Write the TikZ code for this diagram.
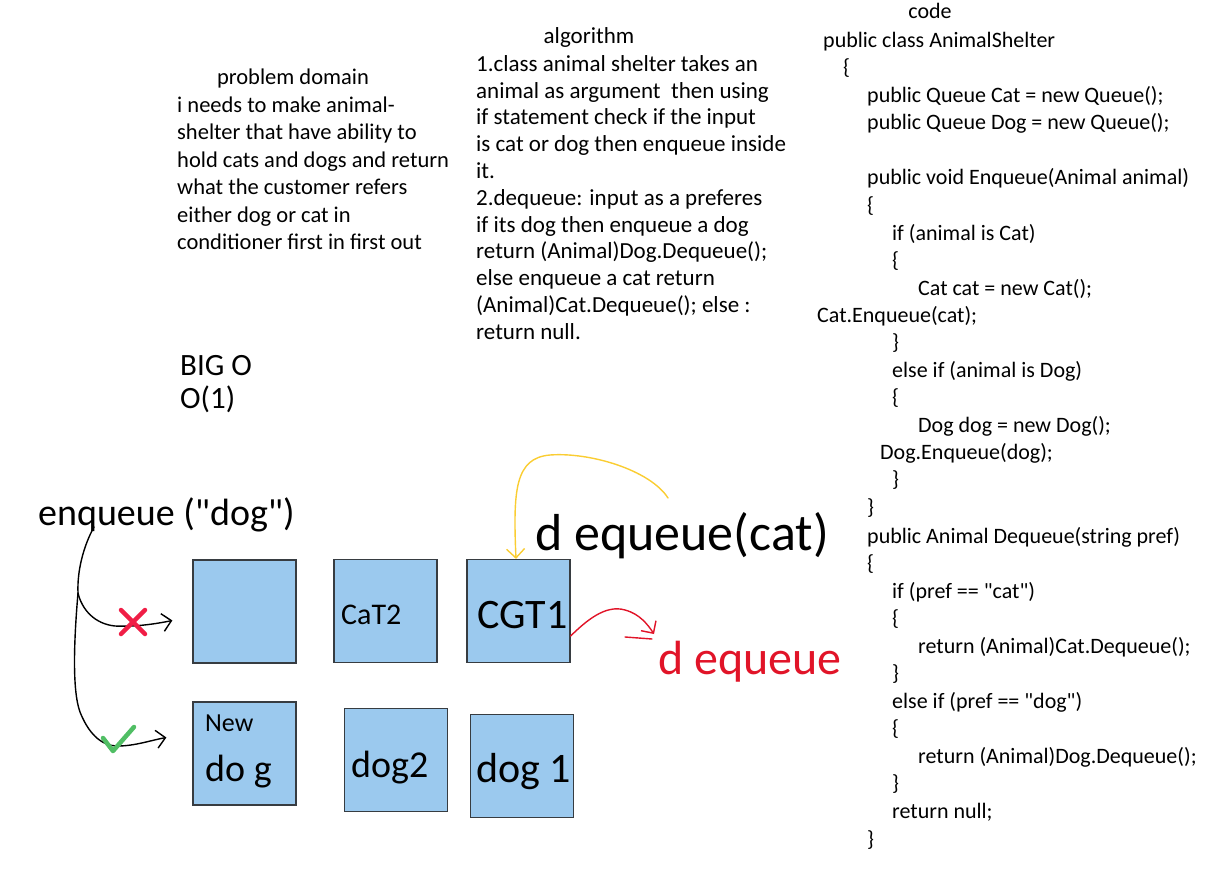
\documentclass[tikz,border=0pt]{standalone}
\usepackage{fontspec}
\setmainfont{Carlito}
\usetikzlibrary{arrows.meta,calc}
\definecolor{boxfill}{RGB}{155,201,238}
\definecolor{boxline}{RGB}{55,60,65}
\definecolor{penred}{RGB}{225,20,40}
\definecolor{penyellow}{RGB}{250,205,50}
\definecolor{xred}{RGB}{240,30,70}
\definecolor{okgreen}{RGB}{80,190,100}
\tikzset{
  qbox/.style={draw=boxline,line width=1.2pt,fill=boxfill,minimum width=103pt,minimum height=103pt,inner sep=0pt},
  pdtxt/.style={font=\fontsize{22.5}{27.5}\selectfont,inner sep=0pt,anchor=north west,align=left},
  altxt/.style={font=\fontsize{23}{26.8}\selectfont,inner sep=0pt,anchor=north west,align=left},
  head/.style={font=\fontsize{22}{27.5}\selectfont,inner sep=0pt,anchor=base},
  cl/.style={font=\fontsize{22}{27.5}\selectfont,inner sep=0pt,anchor=base west},
  hand/.style={inner sep=0pt,anchor=base west},
  pen/.style={line width=1.4pt,line cap=round,line join=round},
  barb/.style={-{Straight Barb[length=9pt,width=18pt,line width=1.4pt]}}
}
\begin{document}
\begin{tikzpicture}[x=1pt,y=-1pt]
\useasboundingbox (0,0) rectangle (1216,872);
% problem domain
\node[head,font=\fontsize{22.5}{27.5}\selectfont] (pdh) at (293,85) {problem domain};
\node[pdtxt] (pd) at (177,112-19.25) {\strut i needs to make animal-\\shelter that have ability to\\hold cats and dogs and return\\what the customer refers\\either dog or cat in\\conditioner first in first out};
% algorithm
\node[head,font=\fontsize{23}{27.5}\selectfont] (alh) at (589,44) {algorithm};
\node[altxt] (al) at (476,71-18.76) {\strut 1.class animal shelter takes an\\animal as argument \ then using\\if statement check if the input\\is cat or dog then enqueue inside\\it.\\2.dequeue: input as a preferes\\if its dog then enqueue a dog\\return (Animal)Dog.Dequeue();\\else enqueue a cat return\\(Animal)Cat.Dequeue(); else :\\return null.};
% big O
\node[hand,font=\fontsize{31}{31}\selectfont] (bigo) at (180,375) {BIG O};
\node[hand,font=\fontsize{31}{31}\selectfont] (o1) at (180,408) {O(1)};
% code
\node[head] (ch) at (930,19) {code};
\node[cl] (c1) at (823,48) {public class AnimalShelter};
\node[cl] (c2) at (843,75) {\{};
\node[cl] (c3) at (867,103) {public Queue Cat = new Queue();};
\node[cl] (c4) at (867,130) {public Queue Dog = new Queue();};
\node[cl] (c5) at (867,185) {public void Enqueue(Animal animal)};
\node[cl] (c6) at (867,212) {\{};
\node[cl] (c7) at (892,240) {if (animal is Cat)};
\node[cl] (c8) at (892,267) {\{};
\node[cl] (c9) at (918,295) {Cat cat = new Cat();};
\node[cl] (c10) at (817,322) {Cat.Enqueue(cat);};
\node[cl] (c11) at (892,349) {\}};
\node[cl] (c12) at (892,377) {else if (animal is Dog)};
\node[cl] (c13) at (892,404) {\{};
\node[cl] (c14) at (918,432) {Dog dog = new Dog();};
\node[cl] (c15) at (880,459) {Dog.Enqueue(dog);};
\node[cl] (c16) at (892,486) {\}};
\node[cl] (c17) at (867,514) {\}};
\node[cl] (c18) at (867,543) {public Animal Dequeue(string pref)};
\node[cl] (c19) at (867,570) {\{};
\node[cl] (c20) at (892,598) {if (pref == \textquotedbl cat\textquotedbl)};
\node[cl] (c21) at (892,625) {\{};
\node[cl] (c22) at (918,653) {return (Animal)Cat.Dequeue();};
\node[cl] (c23) at (892,680) {\}};
\node[cl] (c24) at (892,708) {else if (pref == \textquotedbl dog\textquotedbl)};
\node[cl] (c25) at (892,735) {\{};
\node[cl] (c26) at (918,763) {return (Animal)Dog.Dequeue();};
\node[cl] (c27) at (892,790) {\}};
\node[cl] (c28) at (892,818) {return null;};
\node[cl] (c29) at (867,846) {\}};
% boxes
\node[qbox] (b1) at (244.5,611.5) {};
\node[qbox] (b2) at (385.5,611) {};
\node[qbox] (b3) at (518.5,611) {};
\node[qbox] (b4) at (244.5,753.5) {};
\node[qbox] (b5) at (396,760) {};
\node[qbox] (b6) at (522,766) {};
% box labels
\node[hand,font=\fontsize{30}{30}\selectfont] (l2) at (341,624) {CaT2};
\node[hand,font=\fontsize{42}{42}\selectfont] (l3) at (477,628) {CGT1};
\node[hand,font=\fontsize{26}{26}\selectfont] (l4a) at (205,731) {New};
\node[hand,font=\fontsize{38}{38}\selectfont] (l4b) at (205,781) {do g};
\node[hand,font=\fontsize{38}{38}\selectfont] (l5) at (351,777) {dog2};
\node[hand,font=\fontsize{42}{42}\selectfont] (l6) at (476,782) {dog 1};
% handwritten labels
\node[hand,font=\fontsize{38}{38}\selectfont] (enq) at (38,525) {enqueue (\textquotedbl dog\textquotedbl)};
\node[hand,font=\fontsize{52}{52}\selectfont] (deq) at (535,550) {d equeue(cat)};
\node[hand,font=\fontsize{48}{48}\selectfont,text=penred] (rdeq) at (658,674) {d equeue};
% enqueue connectors
\coordinate (e0) at (94,527);
\coordinate (br) at (78,593);
\draw[pen] (e0) .. controls (84,545) and (77,570) .. (br);
\draw[pen,barb] (br) .. controls (82,610) and (95,624) .. (115,626) .. controls (135,627) and (155,624) .. ($(b1.west)+(-20,9)$);
\draw[pen,barb] (br) .. controls (74,640) and (72,690) .. (80,712) .. controls (88,732) and (100,746) .. (118,746) .. controls (135,746) and (152,740) .. ($(b4.west)+(-26,-16)$);
% red cross and green check
\draw[line width=4.5pt,line cap=round,xred] (121,610) -- (145,634) (145,610) -- (121,634);
\draw[line width=4.5pt,line cap=round,line join=round,okgreen] (103,738) -- (113,751) -- (134,727);
% yellow dequeue arrow
\coordinate (y0) at (668,498);
\draw[pen,penyellow,barb] (y0) .. controls (650,470) and (590,452) .. (550,455) .. controls (515,458) and (513,490) .. (b3.north-|516,0);
% red dequeue arrow
\draw[pen,penred,barb] (b3.east|-0,636) .. controls (585,622) and (605,604) .. (625,610) .. controls (640,614) and (648,625) .. (654,634);
\draw[pen,penred] (625,637) -- (652,639);
\end{tikzpicture}
\end{document}
